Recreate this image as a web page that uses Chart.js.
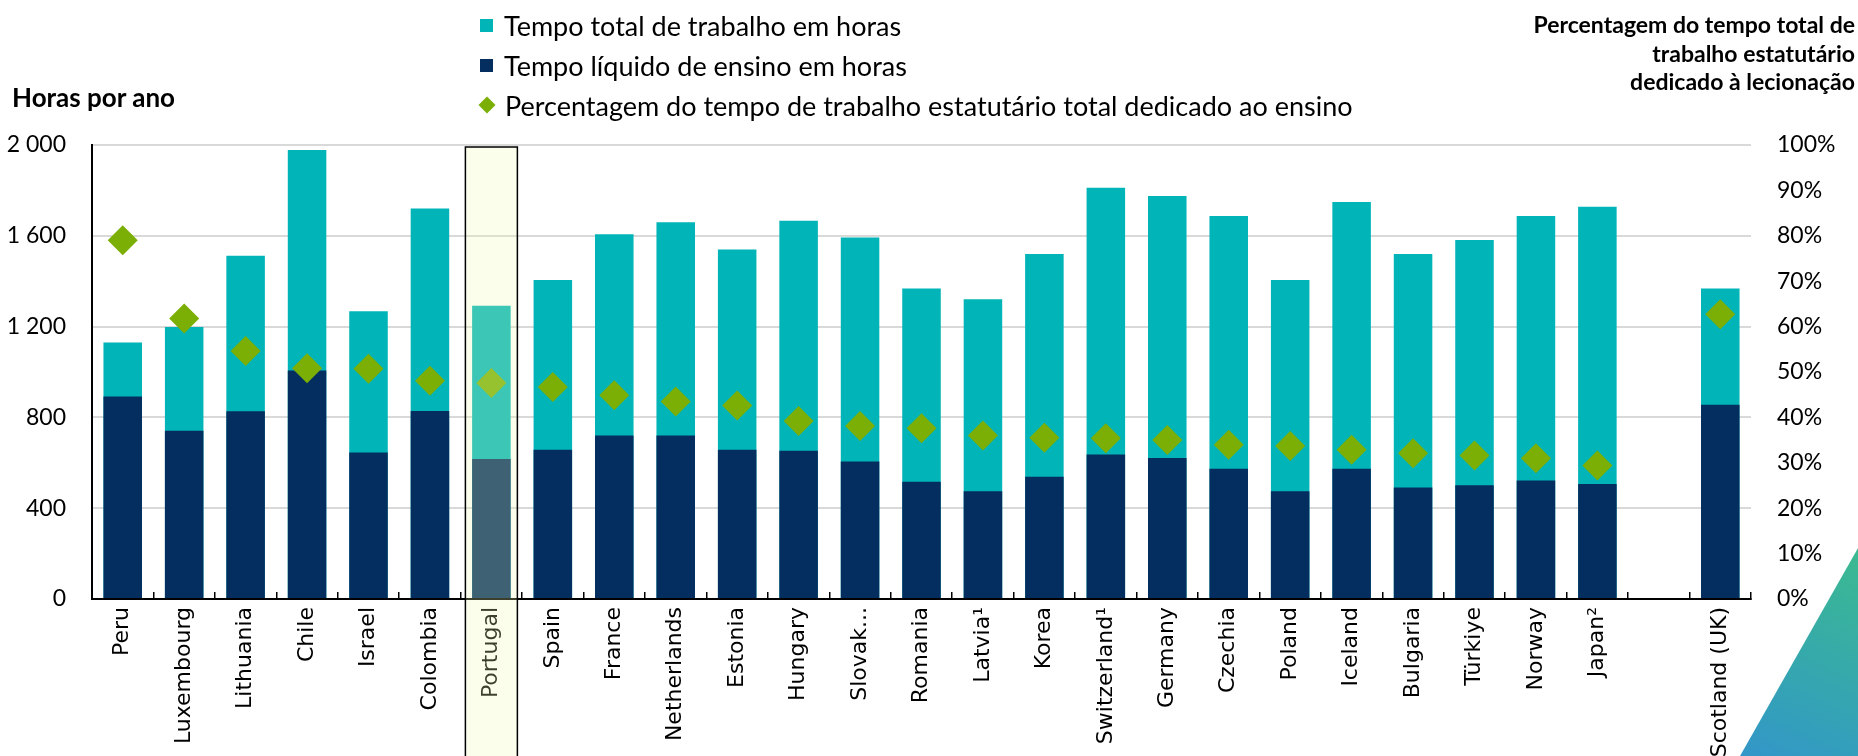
<!DOCTYPE html>
<html lang="pt">
<head>
<meta charset="utf-8">
<title>Tempo de trabalho dos professores</title>
<script src="https://cdn.jsdelivr.net/npm/chart.js@4.4.1/dist/chart.umd.min.js"></script>
<style>
  html, body { margin: 0; padding: 0; background: #fff; }
  #wrap { position: relative; width: 1858px; height: 756px; overflow: hidden; font-family: Lato, "Open Sans", sans-serif; color: #000; }
  #chart { position: absolute; left: 0; top: 0; }
  .axis-title { position: absolute; font-weight: bold; line-height: 28.5px; white-space: nowrap; }
  #left-title { left: 12px; top: 83px; font-size: 26px; }
  #right-title { right: 3px; top: 10px; text-align: right; font-size: 23px; }
  #legend { position: absolute; left: 476px; top: 5px; font-size: 27px; }
  .item { height: 40px; display: flex; align-items: center; white-space: nowrap; }
  .swatch { width: 13px; height: 13px; margin: 0 11px 0 4px; }
  .diamond { width: 12px; height: 12px; transform: rotate(45deg); margin: 0 12px 0 5px; }
  #corner {
    position: absolute; right: 0; bottom: 0; width: 118px; height: 208px;
    clip-path: polygon(100% 0, 100% 100%, 0 100%);
    background: linear-gradient(205deg, #3cba90 0%, #35a7ae 55%, #3396c9 100%);
  }
</style>
</head>
<body>
<div id="wrap">
  <canvas id="chart" width="1858" height="756"></canvas>
  <div id="left-title" class="axis-title">Horas por ano</div>
  <div id="right-title" class="axis-title">Percentagem do tempo total de<br>trabalho estatutário<br>dedicado à lecionação</div>
  <div id="legend">
    <div class="item"><span class="swatch" style="background:#00b4b7"></span>Tempo total de trabalho em horas</div>
    <div class="item"><span class="swatch" style="background:#042e5f"></span>Tempo líquido de ensino em horas</div>
    <div class="item"><span class="diamond" style="background:#7baf06"></span>Percentagem do tempo de trabalho estatutário total dedicado ao ensino</div>
  </div>
  <div id="corner"></div>
</div>
<script>
// Countries, with an empty slot before Scotland
const countries = ["Peru", "Luxembourg", "Lithuania", "Chile", "Israel", "Colombia", "Portugal", "Spain", "France",
  "Netherlands", "Estonia", "Hungary", "Slovak...", "Romania", "Latvia¹", "Korea", "Switzerland¹", "Germany",
  "Czechia", "Poland", "Iceland", "Bulgaria", "Türkiye", "Norway", "Japan²", "", "Scotland (UK)"];

// Statutory total working time (hours per year)
const totalHours = [1130, 1198, 1512, 1978, 1268, 1720, 1292, 1405, 1607, 1660, 1540, 1666, 1593, 1368, 1321,
  1520, 1812, 1775, 1687, 1405, 1749, 1520, 1582, 1687, 1728, null, 1368];

// Net teaching time (hours per year)
const teachingHours = [892, 741, 827, 1007, 645, 828, 617, 657, 720, 720, 658, 653, 606, 517, 475,
  538, 637, 621, 574, 475, 574, 491, 501, 522, 507, null, 856];

// Share of total working time spent teaching (%)
const teachingShare = [79.0, 61.8, 54.6, 50.8, 50.7, 48.1, 47.6, 46.7, 44.9, 43.5, 42.6, 39.2, 38.1, 37.6, 36.0,
  35.5, 35.4, 35.0, 34.0, 33.7, 32.9, 32.1, 31.6, 31.0, 29.4, null, 62.7];

const highlighted = "Portugal";

const TEAL = "#00b4b7";
const NAVY = "#042e5f";
const GREEN = "#7baf06";

function spaceThousands(v) {
  return String(v).replace(/\B(?=(\d{3})+(?!\d))/g, " ");
}

// light box over the highlighted country, drawn last so it tints the bars and label
const highlightBox = {
  id: "highlightBox",
  afterDraw(chart) {
    const x = chart.scales.x;
    const idx = countries.indexOf(highlighted);
    if (idx < 0) return;
    const slot = x.getPixelForValue(1) - x.getPixelForValue(0);
    const cx = x.getPixelForValue(idx);
    const half = slot * 0.423;
    const top = chart.chartArea.top + 2;
    const ctx = chart.ctx;
    ctx.save();
    ctx.fillStyle = "rgba(236, 250, 175, 0.25)";
    ctx.fillRect(cx - half, top, half * 2, chart.height - top + 5);
    ctx.strokeStyle = "#000";
    ctx.lineWidth = 1.5;
    ctx.strokeRect(cx - half, top, half * 2, chart.height - top + 5);
    ctx.restore();
  }
};

const barOpts = { grouped: false, barPercentage: 0.627, categoryPercentage: 1, borderWidth: 0 };

new Chart(document.getElementById("chart"), {
  type: "bar",
  data: {
    labels: countries,
    datasets: [
      {
        type: "line",
        label: "Percentagem do tempo de trabalho estatutário total dedicado ao ensino",
        data: teachingShare,
        yAxisID: "y1",
        showLine: false,
        pointStyle: "rectRot",
        pointRadius: 15,
        pointHoverRadius: 15,
        backgroundColor: GREEN,
        borderColor: GREEN,
        pointBorderWidth: 0,
        order: 0
      },
      Object.assign({ label: "Tempo líquido de ensino em horas", data: teachingHours, backgroundColor: NAVY, yAxisID: "y", order: 1 }, barOpts),
      Object.assign({ label: "Tempo total de trabalho em horas", data: totalHours, backgroundColor: TEAL, yAxisID: "y", order: 2 }, barOpts)
    ]
  },
  options: {
    responsive: false,
    animation: false,
    devicePixelRatio: 1,
    layout: { padding: { top: 145, left: 0, right: 0, bottom: 0 } },
    plugins: { legend: { display: false }, tooltip: { enabled: false } },
    scales: {
      x: {
        grid: { offset: true, drawOnChartArea: false, drawTicks: true, tickLength: -7, color: "#000", lineWidth: 1.5 },
        border: { display: true, color: "#000", width: 2 },
        ticks: {
          autoSkip: false, minRotation: 90, maxRotation: 90, padding: 15,
          color: "#000", font: { family: "DejaVu Sans", size: 22 }
        },
        afterFit: s => { s.height = 157; }
      },
      y: {
        position: "left",
        min: 0, max: 2000,
        ticks: { stepSize: 400, padding: 26, color: "#000", font: { family: "Lato", size: 23 }, callback: v => spaceThousands(v) },
        grid: { color: "#d9d9d9", lineWidth: 2, drawTicks: false },
        border: { display: true, color: "#000", width: 2 },
        afterFit: s => { s.width = 92; }
      },
      y1: {
        position: "right",
        min: 0, max: 100,
        ticks: { stepSize: 10, padding: 26, color: "#000", font: { family: "Lato", size: 23 }, callback: v => v + "%" },
        grid: { display: false, drawTicks: false },
        border: { display: false },
        afterFit: s => { s.width = 107; }
      }
    }
  },
  plugins: [highlightBox]
});
</script>
</body>
</html>
